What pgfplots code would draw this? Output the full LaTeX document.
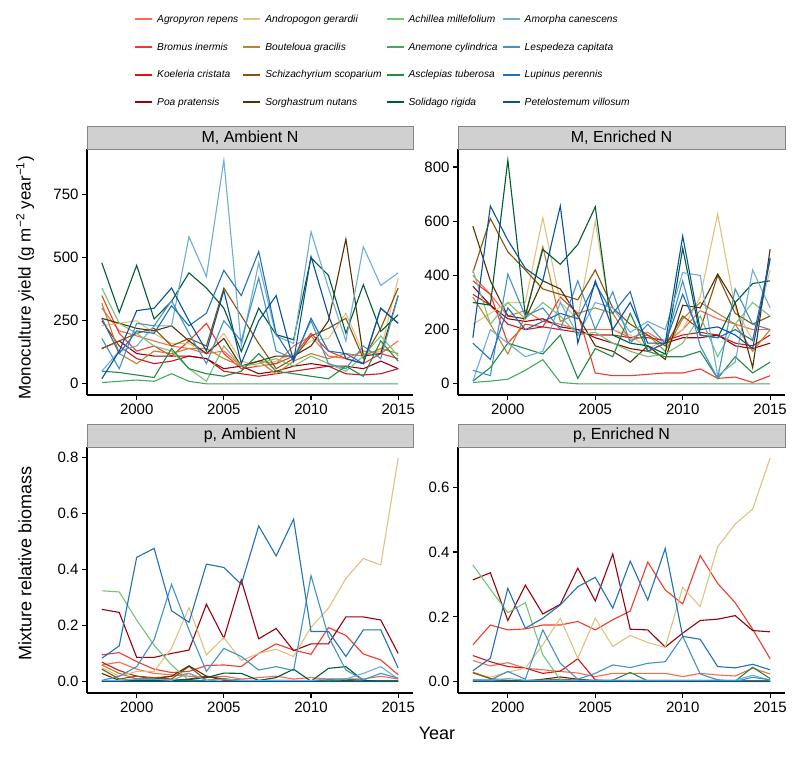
\documentclass[border=0pt]{standalone}
\usepackage{fontspec}
\setmainfont{Liberation Sans}
\usepackage{pgfplots}
\pgfplotsset{compat=1.18}
\usepackage{pgfplotstable}

\definecolor{cagr}{HTML}{FB6A4A}
\definecolor{cbro}{HTML}{EF3B2C}
\definecolor{ckoe}{HTML}{CB181D}
\definecolor{cpoa}{HTML}{99000D}
\definecolor{cand}{HTML}{DFC27D}
\definecolor{cbou}{HTML}{BF812D}
\definecolor{csch}{HTML}{8C510A}
\definecolor{csor}{HTML}{543005}
\definecolor{cach}{HTML}{74C476}
\definecolor{cane}{HTML}{41AB5D}
\definecolor{casc}{HTML}{238B45}
\definecolor{csol}{HTML}{005A32}
\definecolor{camo}{HTML}{6BAED6}
\definecolor{cles}{HTML}{4292C6}
\definecolor{clup}{HTML}{2171B5}
\definecolor{cpet}{HTML}{08519C}
\definecolor{stripfill}{HTML}{D0D0D0}
\definecolor{stripdraw}{HTML}{858585}

\pgfplotstableread{
yr agr bro koe poa and bou sch sor ach ane asc sol amo les lup pet
1998 300 350 250 140 230 320 140 260 380 5 50 480 50 180 260 20
1999 210 200 150 170 240 120 170 240 240 10 45 283 130 60 120 130
2000 190 130 100 120 250 80 200 220 200 15 35 470 150 240 210 290
2001 170 150 80 110 200 130 220 210 150 10 25 257 230 230 200 300
2002 150 110 90 110 160 120 150 230 130 40 140 327 230 330 310 380
2003 140 170 110 110 160 140 180 170 60 10 60 440 583 200 230 250
2004 120 240 100 100 120 140 150 120 10 0 40 380 425 80 280 130
2005 130 120 50 60 200 100 380 180 150 0 30 300 887 250 450 370
2006 70 60 40 70 90 70 270 70 70 0 50 128 150 170 350 80
2007 90 70 30 40 70 90 160 90 80 0 120 300 480 420 525 250
2008 80 80 40 50 90 40 60 110 100 0 50 195 190 130 200 350
2009 150 110 50 70 120 90 100 110 70 0 40 175 160 100 90 90
2010 190 200 60 80 170 120 190 150 110 0 30 500 603 250 260 505
2011 110 130 70 70 180 100 220 250 80 0 20 430 380 80 130 270
2012 100 100 40 70 280 120 260 574 50 0 70 201 170 60 120 100
2013 130 80 35 60 120 110 100 110 110 0 30 393 544 150 80 80
2014 120 120 40 90 130 140 220 120 190 0 170 208 390 100 300 300
2015 170 100 60 60 420 120 380 350 110 0 90 274 440 350 240 240
}\tlData

\pgfplotstableread{
yr agr bro koe poa and bou sch sor ach ane asc sol amo les lup pet
1998 400 380 330 360 220 320 410 582 420 5 10 300 10 50 150 170
1999 330 330 290 290 260 220 610 380 220 10 60 290 200 30 90 656
2000 250 150 220 240 300 110 487 250 300 17 150 825 150 405 280 530
2001 270 220 200 230 300 250 420 240 240 50 130 250 100 250 200 426
2002 230 210 210 240 613 506 350 380 300 89 110 496 120 280 230 380
2003 220 320 200 210 300 230 330 350 250 5 180 441 300 200 260 656
2004 200 260 190 200 240 260 310 250 180 0 20 514 180 380 240 150
2005 200 40 180 170 600 280 420 140 190 0 130 653 300 200 370 380
2006 200 30 180 150 200 260 280 120 150 0 100 180 280 340 260 200
2007 170 30 170 130 180 160 220 80 120 0 260 150 190 150 340 300
2008 190 35 170 120 130 180 180 140 100 0 120 140 230 220 120 150
2009 150 40 160 150 160 120 140 90 110 0 100 110 200 150 150 150
2010 200 40 180 170 200 240 250 290 150 0 100 500 410 380 330 545
2011 270 55 190 170 320 300 200 280 250 0 120 180 400 140 180 200
2012 240 20 180 180 626 260 400 405 100 0 20 170 30 20 170 210
2013 220 25 150 140 280 220 260 300 220 0 100 300 80 350 200 180
2014 200 5 140 130 160 120 220 60 300 0 40 370 420 220 160 130
2015 200 30 180 150 420 200 250 497 250 0 80 380 280 200 466 460
}\trData

\pgfplotstableread{
yr agr bro koe poa and bou sch sor ach ane asc sol amo les lup pet
1998 0.06 0.096 0.07 0.258 0.05 0.06 0.045 0.03 0.324 0.001 0.003 0.002 0.005 0.005 0.084 0.001
1999 0.07 0.104 0.04 0.247 0.02 0.03 0.01 0.005 0.32 0.001 0.003 0.002 0.005 0.02 0.128 0.001
2000 0.045 0.072 0.02 0.087 0.037 0.01 0.02 0.01 0.22 0.001 0.005 0.005 0.01 0.054 0.443 0.001
2001 0.03 0.045 0.01 0.087 0.037 0.015 0.015 0.01 0.13 0.001 0.005 0.005 0.01 0.15 0.475 0.001
2002 0.025 0.033 0.005 0.101 0.12 0.02 0.01 0.02 0.06 0.001 0.005 0.005 0.005 0.347 0.253 0.001
2003 0.02 0.037 0.01 0.113 0.264 0.03 0.055 0.057 0.005 0.001 0.005 0.008 0.03 0.185 0.212 0.001
2004 0.015 0.058 0.02 0.276 0.096 0.005 0.005 0.02 0.001 0.001 0.005 0.015 0.005 0.037 0.419 0.001
2005 0.02 0.06 0.005 0.155 0.158 0.01 0.01 0.01 0.001 0.001 0.008 0.031 0.01 0.119 0.407 0.001
2006 0.01 0.054 0.003 0.362 0.076 0.005 0.003 0.005 0.001 0.001 0.005 0.03 0.005 0.09 0.347 0.001
2007 0.015 0.101 0.002 0.153 0.101 0.002 0.003 0.003 0.001 0.001 0.005 0.005 0.005 0.042 0.555 0.001
2008 0.02 0.135 0.002 0.19 0.116 0.002 0.002 0.003 0.001 0.001 0.005 0.015 0.005 0.054 0.448 0.001
2009 0.01 0.113 0.002 0.111 0.09 0.002 0.002 0.002 0.001 0.001 0.005 0.045 0.005 0.04 0.579 0.001
2010 0.015 0.098 0.002 0.135 0.194 0.002 0.002 0.002 0.001 0.001 0.003 0.002 0.005 0.378 0.179 0.001
2011 0.01 0.193 0.002 0.135 0.262 0.002 0.002 0.008 0.001 0.001 0.003 0.048 0.01 0.161 0.179 0.001
2012 0.01 0.165 0.002 0.231 0.368 0.002 0.002 0.005 0.001 0.001 0.01 0.054 0.01 0.042 0.09 0.001
2013 0.01 0.099 0.002 0.231 0.439 0.002 0.002 0.002 0.001 0.001 0.005 0.005 0.03 0.007 0.185 0.001
2014 0.02 0.078 0.002 0.22 0.416 0.002 0.002 0.003 0.001 0.001 0.003 0.002 0.054 0.03 0.185 0.001
2015 0.01 0.025 0.002 0.101 0.796 0.002 0.002 0.003 0.001 0.001 0.003 0.002 0.01 0.013 0.049 0.001
}\blData

\pgfplotstableread{
yr agr bro koe poa and bou sch sor ach ane asc sol amo les lup pet
1998 0.066 0.114 0.081 0.314 0.027 0.03 0.028 0.005 0.36 0.001 0.002 0.002 0.005 0.006 0.034 0.001
1999 0.049 0.175 0.062 0.336 0.014 0.01 0.01 0.003 0.285 0.001 0.002 0.002 0.005 0.006 0.073 0.001
2000 0.059 0.16 0.047 0.189 0.03 0.005 0.003 0.002 0.213 0.001 0.002 0.002 0.01 0.032 0.288 0.001
2001 0.042 0.163 0.042 0.298 0.042 0.003 0.002 0.003 0.244 0.001 0.002 0.002 0.005 0.008 0.165 0.001
2002 0.037 0.175 0.026 0.209 0.114 0.003 0.005 0.008 0.083 0.001 0.002 0.002 0.005 0.16 0.196 0.001
2003 0.032 0.175 0.033 0.239 0.196 0.005 0.008 0.015 0.006 0.001 0.002 0.002 0.005 0.057 0.237 0.001
2004 0.027 0.186 0.071 0.35 0.073 0.003 0.005 0.008 0.001 0.001 0.002 0.002 0.005 0.008 0.293 0.001
2005 0.016 0.16 0.006 0.249 0.196 0.002 0.003 0.004 0.001 0.001 0.002 0.002 0.005 0.026 0.322 0.001
2006 0.026 0.191 0.003 0.394 0.109 0.002 0.004 0.003 0.001 0.001 0.005 0.002 0.005 0.052 0.227 0.001
2007 0.026 0.218 0.002 0.162 0.143 0.002 0.002 0.002 0.001 0.001 0.029 0.002 0.005 0.044 0.372 0.001
2008 0.026 0.369 0.002 0.16 0.121 0.002 0.002 0.002 0.001 0.001 0.003 0.002 0.005 0.057 0.252 0.001
2009 0.026 0.283 0.002 0.107 0.106 0.002 0.002 0.002 0.001 0.001 0.002 0.002 0.005 0.062 0.411 0.001
2010 0.016 0.24 0.002 0.15 0.291 0.002 0.002 0.002 0.001 0.001 0.002 0.002 0.005 0.14 0.14 0.001
2011 0.026 0.389 0.002 0.189 0.232 0.002 0.002 0.002 0.001 0.001 0.002 0.002 0.005 0.024 0.131 0.001
2012 0.021 0.303 0.002 0.193 0.416 0.002 0.002 0.002 0.001 0.001 0.002 0.005 0.005 0.006 0.047 0.001
2013 0.018 0.244 0.002 0.204 0.486 0.002 0.002 0.002 0.001 0.001 0.002 0.002 0.005 0.001 0.043 0.001
2014 0.042 0.162 0.002 0.158 0.532 0.002 0.002 0.002 0.001 0.001 0.045 0.002 0.02 0.014 0.054 0.001
2015 0.024 0.071 0.002 0.154 0.689 0.002 0.002 0.002 0.001 0.001 0.01 0.002 0.005 0.006 0.037 0.001
}\brData

\newcommand{\plotall}[1]{%
\addplot[cagr, line width=1.1pt, forget plot] table[x=yr,y=agr]{#1};
\addplot[cbro, line width=1.1pt, forget plot] table[x=yr,y=bro]{#1};
\addplot[ckoe, line width=1.1pt, forget plot] table[x=yr,y=koe]{#1};
\addplot[cpoa, line width=1.1pt, forget plot] table[x=yr,y=poa]{#1};
\addplot[cand, line width=1.1pt, forget plot] table[x=yr,y=and]{#1};
\addplot[cbou, line width=1.1pt, forget plot] table[x=yr,y=bou]{#1};
\addplot[csch, line width=1.1pt, forget plot] table[x=yr,y=sch]{#1};
\addplot[csor, line width=1.1pt, forget plot] table[x=yr,y=sor]{#1};
\addplot[cach, line width=1.1pt, forget plot] table[x=yr,y=ach]{#1};
\addplot[cane, line width=1.1pt, forget plot] table[x=yr,y=ane]{#1};
\addplot[casc, line width=1.1pt, forget plot] table[x=yr,y=asc]{#1};
\addplot[csol, line width=1.1pt, forget plot] table[x=yr,y=sol]{#1};
\addplot[camo, line width=1.1pt, forget plot] table[x=yr,y=amo]{#1};
\addplot[cles, line width=1.1pt, forget plot] table[x=yr,y=les]{#1};
\addplot[clup, line width=1.1pt, forget plot] table[x=yr,y=lup]{#1};
\addplot[cpet, line width=1.1pt, forget plot] table[x=yr,y=pet]{#1};
}

\pgfplotsset{
  panel/.style={
    scale only axis, height=246pt,
    xmin=1997.15, xmax=2015.85, xtick={2000,2005,2010,2015},
    axis x line*=bottom, axis y line*=left,
    axis line style={line width=1.1pt, -},
    tick style={line width=1.1pt, black},
    tick align=outside, major tick length=5pt,
    minor tick num=0,
    ticklabel style={font=\fontsize{15}{15}\selectfont},
    /pgf/number format/assume math mode=true,
    /pgf/number format/1000 sep={},
  },
  pfmt/.style={yticklabel={\pgfmathprintnumber[fixed,fixed zerofill,precision=1]{\tick}}},
}

\begin{document}
\begin{tikzpicture}
\useasboundingbox (0,0) rectangle (800pt,756pt);

% top-left
\begin{axis}[panel, name=tl, at={(87pt,361pt)}, anchor=south west, width=326pt,
  ymin=-44.35, ymax=931.35, ytick={0,250,500,750},
  legend columns=4, legend cell align=left,
  legend style={at={(axis description cs:0.144,1.554)}, anchor=north west, draw=none, fill=none,
    inner sep=0pt, font=\fontsize{10.2}{12}\selectfont\itshape, row sep=14.8pt, column sep=0pt,
    /tikz/every odd column/.append style={column sep=2pt},
    /tikz/every even column/.append style={column sep=2pt}},
]
\addlegendimage{cagr, line width=2pt}\addlegendentry{Agropyron repens}
\addlegendimage{cand, line width=2pt}\addlegendentry{Andropogon gerardii}
\addlegendimage{cach, line width=2pt}\addlegendentry{Achillea millefolium}
\addlegendimage{camo, line width=2pt}\addlegendentry{Amorpha canescens}
\addlegendimage{cbro, line width=2pt}\addlegendentry{Bromus inermis}
\addlegendimage{cbou, line width=2pt}\addlegendentry{Bouteloua gracilis}
\addlegendimage{cane, line width=2pt}\addlegendentry{Anemone cylindrica}
\addlegendimage{cles, line width=2pt}\addlegendentry{Lespedeza capitata}
\addlegendimage{ckoe, line width=2pt}\addlegendentry{Koeleria cristata}
\addlegendimage{csch, line width=2pt}\addlegendentry{Schizachyrium scoparium}
\addlegendimage{casc, line width=2pt}\addlegendentry{Asclepias tuberosa}
\addlegendimage{clup, line width=2pt}\addlegendentry{Lupinus perennis}
\addlegendimage{cpoa, line width=2pt}\addlegendentry{Poa pratensis}
\addlegendimage{csor, line width=2pt}\addlegendentry{Sorghastrum nutans}
\addlegendimage{csol, line width=2pt}\addlegendentry{Solidago rigida}
\addlegendimage{cpet, line width=2pt}\addlegendentry{Petelostemum villosum}
\plotall{\tlData}
\end{axis}

% top-right
\begin{axis}[panel, name=tr, at={(458pt,361pt)}, anchor=south west, width=327pt,
  ymin=-41.25, ymax=866.25, ytick={0,200,400,600,800}]
\plotall{\trData}
\end{axis}

% bottom-left
\begin{axis}[panel, pfmt, name=bl, at={(87pt,63pt)}, anchor=south west, width=326pt,
  ymin=-0.0398, ymax=0.8358, ytick={0,0.2,0.4,0.6,0.8}]
\plotall{\blData}
\end{axis}

% bottom-right
\begin{axis}[panel, pfmt, name=br, at={(458pt,63pt)}, anchor=south west, width=327pt,
  ymin=-0.03445, ymax=0.72345, ytick={0,0.2,0.4,0.6}]
\plotall{\brData}
\end{axis}

% strips
\foreach \ax/\lab in {tl/{M, Ambient N}, tr/{M, Enriched N}, bl/{p, Ambient N}, br/{p, Enriched N}}{
  \draw[fill=stripfill, draw=stripdraw, line width=0.9pt] (\ax.north west) rectangle ([yshift=23pt]\ax.north east);
  \node[font=\fontsize{16}{16}\selectfont, inner sep=0pt] at ([yshift=11.5pt]\ax.north) {\lab};
}

\node[rotate=90, font=\fontsize{17}{17}\selectfont] at (25pt,478pt) {Monoculture yield (g m\textsuperscript{−2} year\textsuperscript{−1})};
\node[rotate=90, font=\fontsize{18}{18}\selectfont] at (25pt,193pt) {Mixture relative biomass};
\node[font=\fontsize{18}{18}\selectfont] at (437pt,23pt) {Year};
\end{tikzpicture}
\end{document}
